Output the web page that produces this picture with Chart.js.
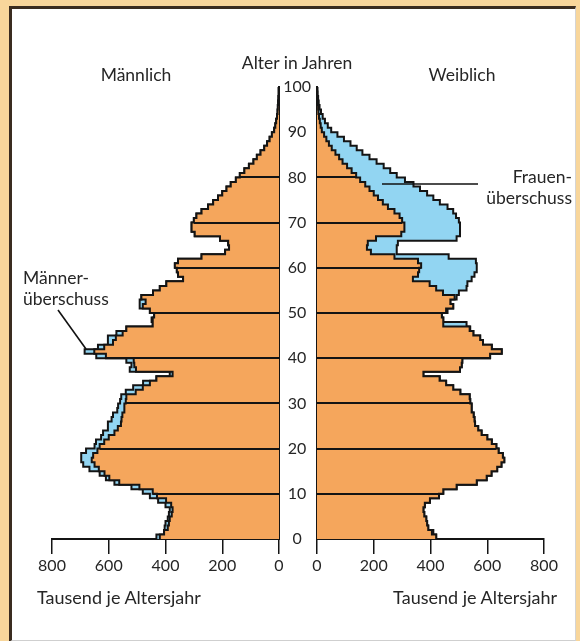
<!DOCTYPE html>
<html lang="de">
<head>
<meta charset="utf-8">
<script src="https://cdn.jsdelivr.net/npm/chart.js@4/dist/chart.umd.min.js"></script>
<style>
  html, body { margin: 0; padding: 0; }
  body { width: 580px; height: 641px; background: #f8d69b; position: relative; overflow: hidden;
         font-family: Lato, "Open Sans", sans-serif; color: #262626; }
  .panel { position: absolute; left: 9px; top: 6px; width: 563px; height: 631px; background: #fff;
           border-left: 3px solid #3a2c20; border-top: 3px solid #3a2c20;
           border-right: 1px solid #d4d4d4; border-bottom: 2px solid #cfcfcf; }
  canvas { position: absolute; top: 0; }
  #maleChart { left: 0; }
  #femaleChart { left: 279px; }
  .lbl { position: absolute; font-size: 17.5px; line-height: 21px; white-space: nowrap; }
  .foot { font-size: 18px; }
  svg { position: absolute; left: 0; top: 0; }
</style>
</head>
<body>
<div class="panel"></div>
<canvas id="maleChart" width="290" height="641"></canvas>
<canvas id="femaleChart" width="301" height="641"></canvas>

<div class="lbl" style="left:136px; top:64px; transform:translateX(-50%)">Männlich</div>
<div class="lbl" style="left:297px; top:52px; transform:translateX(-50%)">Alter in Jahren</div>
<div class="lbl" style="left:462px; top:64px; transform:translateX(-50%)">Weiblich</div>
<div class="lbl" style="left:23px; top:267px">Männer-<br>überschuss</div>
<div class="lbl" style="right:8px; top:166px; text-align:right">Frauen-<br>überschuss</div>
<div class="lbl foot" style="left:37px; top:587px">Tausend je Altersjahr</div>
<div class="lbl foot" style="right:23px; top:587px">Tausend je Altersjahr</div>

<svg width="580" height="641">
  <line x1="58" y1="310" x2="86" y2="349" stroke="#111" stroke-width="1.6"/>
  <line x1="382" y1="184" x2="478" y2="184" stroke="#111" stroke-width="1.6"/>
</svg>

<script>
// population per single year of age, 0 .. 100 (thousands)
const ages = Array.from({ length: 101 }, (_, i) => i);

const male = [
  432, 405, 403, 400, 392, 388, 385, 400, 426, 455,
  480, 520, 580, 610, 632, 668, 690, 697, 697, 680,
  650, 645, 627, 620, 603, 603, 590, 585, 570, 567,
  560, 556, 540, 514, 479, 432, 385, 526, 520, 538,
  644, 685, 638, 603, 603, 573, 538, 445, 449, 440,
  455, 491, 491, 485, 444, 420, 397, 338, 356, 360,
  367, 356, 273, 190, 176, 179, 208, 297, 308, 308,
  300, 291, 273, 250, 232, 215, 200, 185, 170, 152,
  138, 122, 106, 90, 78, 65, 52, 42, 33, 25,
  17, 13, 10, 7, 5, 4, 3, 2, 1, 1,
  0
];

const female = [
  420, 410, 392, 388, 385, 378, 375, 380, 398, 430,
  445, 492, 563, 598, 615, 635, 650, 660, 655, 640,
  632, 616, 600, 580, 568, 557, 555, 552, 545, 545,
  540, 538, 505, 480, 455, 433, 375, 504, 510, 512,
  610, 651, 616, 585, 575, 551, 540, 527, 445, 440,
  460, 480, 470, 492, 500, 527, 530, 545, 555, 563,
  563, 560, 464, 281, 281, 285, 492, 504, 504, 504,
  500, 490, 480, 460, 433, 410, 388, 363, 340, 310,
  281, 258, 235, 210, 185, 160, 140, 118, 95, 72,
  50, 38, 28, 20, 14, 9, 6, 4, 2, 1,
  0
];

const xTicks = [0, 200, 400, 600, 800];
const decades = [10, 20, 30, 40, 50, 60, 70, 80];

const ORANGE = "#f5a65c";
const BLUE = "#92d5f2";
const INK = "#141414";
const FONT = { family: "Lato, 'Open Sans', sans-serif", size: 16 };

// the part both sexes share is orange, the surplus shows blue
const common = ages.map(a => Math.min(male[a], female[a]));

function toPoints(values) {
  return ages.map(a => ({ x: values[a], y: a }));
}

function stepSet(values, colour) {
  return {
    data: toPoints(values),
    stepped: "after",
    fill: "origin",
    backgroundColor: colour,
    borderColor: INK,
    borderWidth: 2,
    pointRadius: 0,
    borderJoinStyle: "miter"
  };
}

// black lines across the bars at every tenth year
function decadeLines(values) {
  return {
    id: "decadeLines",
    afterDatasetsDraw(chart) {
      const { ctx, scales: { x, y } } = chart;
      ctx.save();
      ctx.strokeStyle = INK;
      ctx.lineWidth = 2;
      decades.forEach(age => {
        const py = Math.round(y.getPixelForValue(age));
        ctx.beginPath();
        ctx.moveTo(x.getPixelForValue(0), py);
        ctx.lineTo(x.getPixelForValue(values[age]), py);
        ctx.stroke();
      });
      ctx.restore();
    }
  };
}

function makeChart(id, surplus, side) {
  const left = side === "male";
  return new Chart(document.getElementById(id), {
    type: "line",
    data: { datasets: [stepSet(common, ORANGE), stepSet(surplus, BLUE)] },
    options: {
      indexAxis: "y",
      responsive: false,
      animation: false,
      events: [],
      layout: { padding: left
        ? { left: 52, right: 11, top: 87, bottom: 52 }
        : { left: 0, right: 36, top: 87, bottom: 52 } },
      plugins: { legend: { display: false }, tooltip: { enabled: false } },
      scales: {
        x: {
          type: "linear",
          reverse: left,
          min: 0,
          max: 800,
          afterBuildTicks: s => { s.ticks = xTicks.map(v => ({ value: v })); },
          ticks: { color: "#262626", font: FONT, padding: 2, maxRotation: 0 },
          grid: { drawOnChartArea: false, tickLength: 15, color: INK, lineWidth: 1.5 },
          border: { color: INK, width: 2 },
          afterFit: s => { s.height = 50; }
        },
        y: {
          type: "linear",
          position: left ? "right" : "left",
          min: 0,
          max: 100,
          ticks: { display: !left, stepSize: 10, color: "#262626", font: FONT,
                   crossAlign: "center", padding: 6 },
          grid: { display: false, drawTicks: false },
          border: { color: INK, width: 2 },
          afterFit: s => { s.width = left ? 0 : 38; }
        }
      }
    },
    plugins: [decadeLines(common)]
  });
}

makeChart("maleChart", male, "male");
makeChart("femaleChart", female, "female");
</script>
</body>
</html>
